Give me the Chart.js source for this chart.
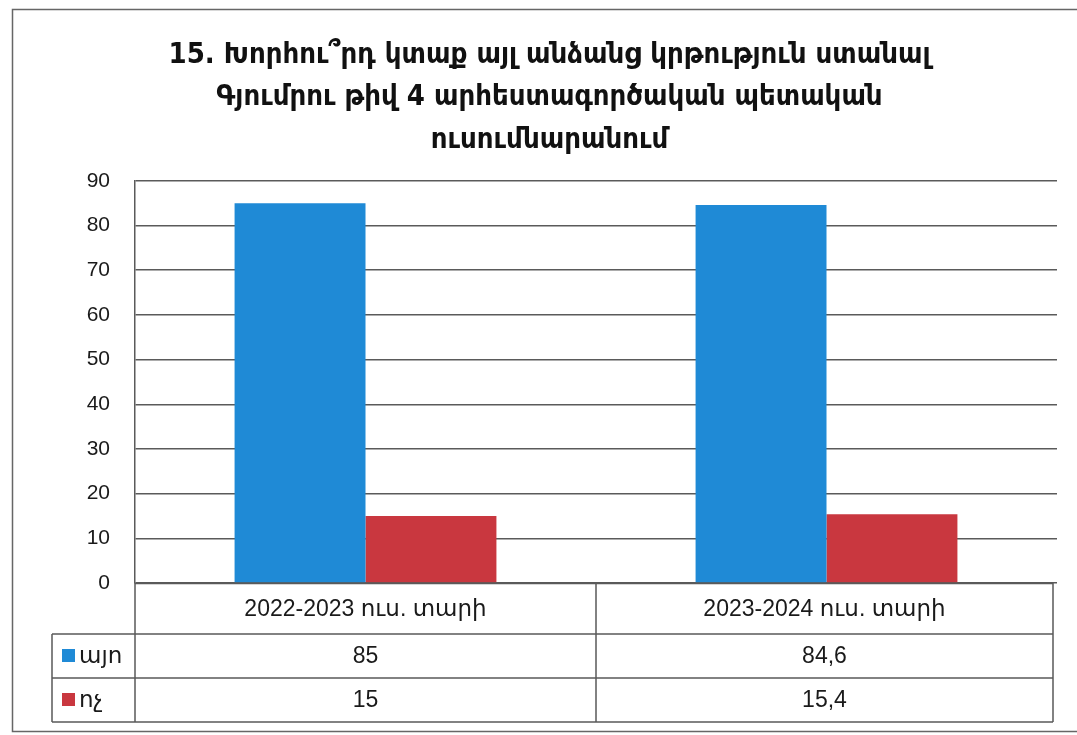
<!DOCTYPE html>
<html>
<head>
<meta charset="utf-8">
<script src="https://cdn.jsdelivr.net/npm/chart.js@4.4.1/dist/chart.umd.min.js"></script>
<style>
	html, body { margin: 0; padding: 0; background: #fff; }
	#wrap { width: 1077px; height: 735px; }
</style>
</head>
<body>
<div id="wrap"><canvas id="graficoKrtutyun"></canvas></div>
<script>
// data
var tariner = ['2022-2023 ուս. տարի', '2023-2024 ուս. տարի'];
var ayo = [85, 84.6];
var voch = [15, 15.4];
var serianer = ['այո', 'ոչ'];
var yTicks = [0, 10, 20, 30, 40, 50, 60, 70, 80, 90];
var vernagir = [
	'15. Խորհու՞րդ կտաք այլ անձանց կրթություն ստանալ',
	'Գյումրու թիվ 4 արհեստագործական պետական',
	'ուսումնարանում'
];

var KAPUYT = '#1f8ad6';
var KARMIR = '#c9373f';
var GIC = '#5a5a5a';

function tiv(v) {
	return String(v).replace('.', ',');
}

// outer frame of the scanned chart
var shrjanak = {
	id: 'shrjanak',
	beforeDraw: function(chart) {
		var ctx = chart.ctx;
		ctx.save();
		ctx.fillStyle = '#fff';
		ctx.fillRect(0, 0, chart.width, chart.height);
		ctx.strokeStyle = '#666';
		ctx.lineWidth = 1.5;
		ctx.strokeRect(12.5, 9.5, 1080, 722);
		ctx.restore();
	}
};

// data table under the plot
var aghyusak = {
	id: 'aghyusak',
	afterDraw: function(chart) {
		var ctx = chart.ctx;
		var area = chart.chartArea;
		var x = chart.scales.x;
		var top = area.bottom;
		var row0 = top + 51;
		var row1 = row0 + 44;
		var row2 = row1 + 44;
		var legLeft = 52;
		var half = (x.getPixelForValue(1) - x.getPixelForValue(0)) / 2;
		var edges = [area.left];
		for (var i = 0; i < tariner.length; i++) {
			edges.push(x.getPixelForValue(i) + half);
		}
		var right = edges[edges.length - 1] - 4;
		edges[edges.length - 1] = right;

		ctx.save();
		ctx.strokeStyle = GIC;
		ctx.lineWidth = 1.5;
		ctx.beginPath();
		// horizontal lines
		ctx.moveTo(area.left, top + 0.5); ctx.lineTo(right, top + 0.5);
		ctx.moveTo(legLeft, row0); ctx.lineTo(right, row0);
		ctx.moveTo(legLeft, row1); ctx.lineTo(right, row1);
		ctx.moveTo(legLeft, row2); ctx.lineTo(right, row2);
		// vertical lines
		ctx.moveTo(legLeft, row0); ctx.lineTo(legLeft, row2);
		edges.forEach(function(e, k) {
			ctx.moveTo(e, top); ctx.lineTo(e, row2);
		});
		ctx.stroke();

		ctx.fillStyle = '#1a1a1a';
		ctx.textAlign = 'center';
		ctx.textBaseline = 'middle';
		ctx.font = '23px "Liberation Sans Narrow", "Liberation Sans", "DejaVu Sans", sans-serif';
		tariner.forEach(function(t, k) {
			var cx = (edges[k] + edges[k + 1]) / 2;
			ctx.fillText(t, cx, (top + row0) / 2 + 1);
		});

		var rows = [[row0, row1], [row1, row2]];
		chart.data.datasets.forEach(function(ds, d) {
			var cy = (rows[d][0] + rows[d][1]) / 2 + 1;
			ds.data.forEach(function(v, k) {
				var cx = (edges[k] + edges[k + 1]) / 2;
				ctx.textAlign = 'center';
				ctx.fillText(tiv(v), cx, cy);
			});
			ctx.fillStyle = ds.backgroundColor;
			ctx.fillRect(legLeft + 10, cy - 8, 13, 13);
			ctx.fillStyle = '#1a1a1a';
			ctx.textAlign = 'left';
			ctx.fillText(ds.label, legLeft + 27, cy);
		});
		ctx.restore();
	}
};

var grafik = new Chart(document.getElementById('graficoKrtutyun').getContext('2d'), {
	type: 'bar',
	data: {
		labels: tariner,
		datasets: [{
			label: serianer[0],
			backgroundColor: KAPUYT,
			data: ayo
		},
		{
			label: serianer[1],
			backgroundColor: KARMIR,
			data: voch
		}]
	},
	options: {
		responsive: true,
		maintainAspectRatio: false,
		animation: false,
		layout: { padding: { top: 10, right: 20, bottom: 152, left: 42 } },
		datasets: {
			bar: { categoryPercentage: 0.568, barPercentage: 1 }
		},
		plugins: {
			legend: { display: false },
			tooltip: { enabled: false },
			title: {
				display: true,
				text: vernagir,
				color: '#111',
				font: { family: '"DejaVu Sans Condensed", "DejaVu Sans", sans-serif', size: 29, weight: 'bold', lineHeight: 1.47 },
				padding: { top: 24, bottom: 19 }
			}
		},
		scales: {
			x: {
				display: false,
				offset: true
			},
			y: {
				min: 0,
				max: 90,
				afterFit: function(scale) { scale.width = 93; },
				afterBuildTicks: function(scale) {
					scale.ticks = yTicks.map(function(v) { return { value: v }; });
				},
				grid: { color: GIC, lineWidth: 1.5, drawTicks: false },
				border: { display: true, color: GIC, width: 1.5 },
				ticks: {
					color: '#1a1a1a',
					padding: 25,
					font: { family: '"Liberation Sans", Arial, sans-serif', size: 21 }
				}
			}
		}
	},
	plugins: [shrjanak, aghyusak]
});
</script>
</body>
</html>
